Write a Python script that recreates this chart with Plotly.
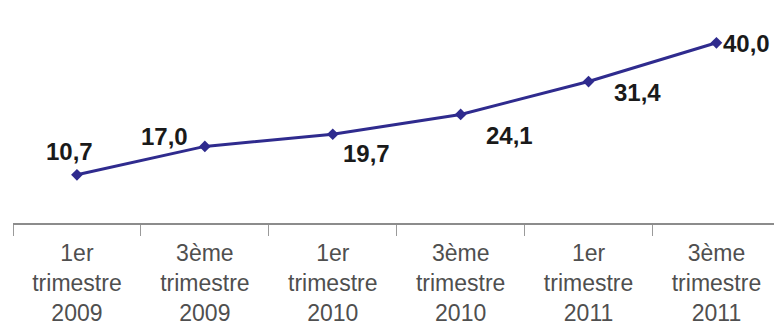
import plotly.graph_objects as go

categories = ["1er<br>trimestre<br>2009", "3ème<br>trimestre<br>2009", "1er<br>trimestre<br>2010",
              "3ème<br>trimestre<br>2010", "1er<br>trimestre<br>2011", "3ème<br>trimestre<br>2011"]
values = [10.7, 17.0, 19.7, 24.1, 31.4, 40.0]
label_xshift = [-7, -40, 34, 49, 49, 30]
label_yshift = [23, 10, -19, -21, -11, -1]

LINE = "#2f2b8e"
FONT = "Liberation Sans, Arial, sans-serif"

fig = go.Figure()
fig.add_trace(go.Scatter(
    x=categories, y=values, mode="lines+markers",
    line=dict(color=LINE, width=3),
    marker=dict(symbol="diamond", size=9, color=LINE),
    hoverinfo="skip", showlegend=False,
))

for c, v, dx, dy in zip(categories, values, label_xshift, label_yshift):
    fig.add_annotation(
        x=c, y=v, text=f"{v:.1f}".replace(".", ","), showarrow=False,
        xshift=dx, yshift=dy, xanchor="center", yanchor="middle",
        font=dict(family=FONT, size=24, color="#1a1a1a", weight="bold"),
    )

fig.update_layout(
    width=774, height=329,
    margin=dict(l=13, r=0, t=0, b=106),
    paper_bgcolor="white", plot_bgcolor="white",
    xaxis=dict(
        type="category", range=[-0.5, 5.45],
        showline=True, linecolor="#8c8c8c", linewidth=1.5,
        ticks="outside", tickson="boundaries", ticklen=11, tickcolor="#9a9a9a", tickwidth=1.2,
        showgrid=False, zeroline=False,
        tickfont=dict(family=FONT, size=23, color="#4f4f4f"),
        ticklabelstandoff=9,
    ),
    yaxis=dict(range=[0, 49.5], visible=False, showgrid=False, zeroline=False),
)

fig.write_html("out.html")
